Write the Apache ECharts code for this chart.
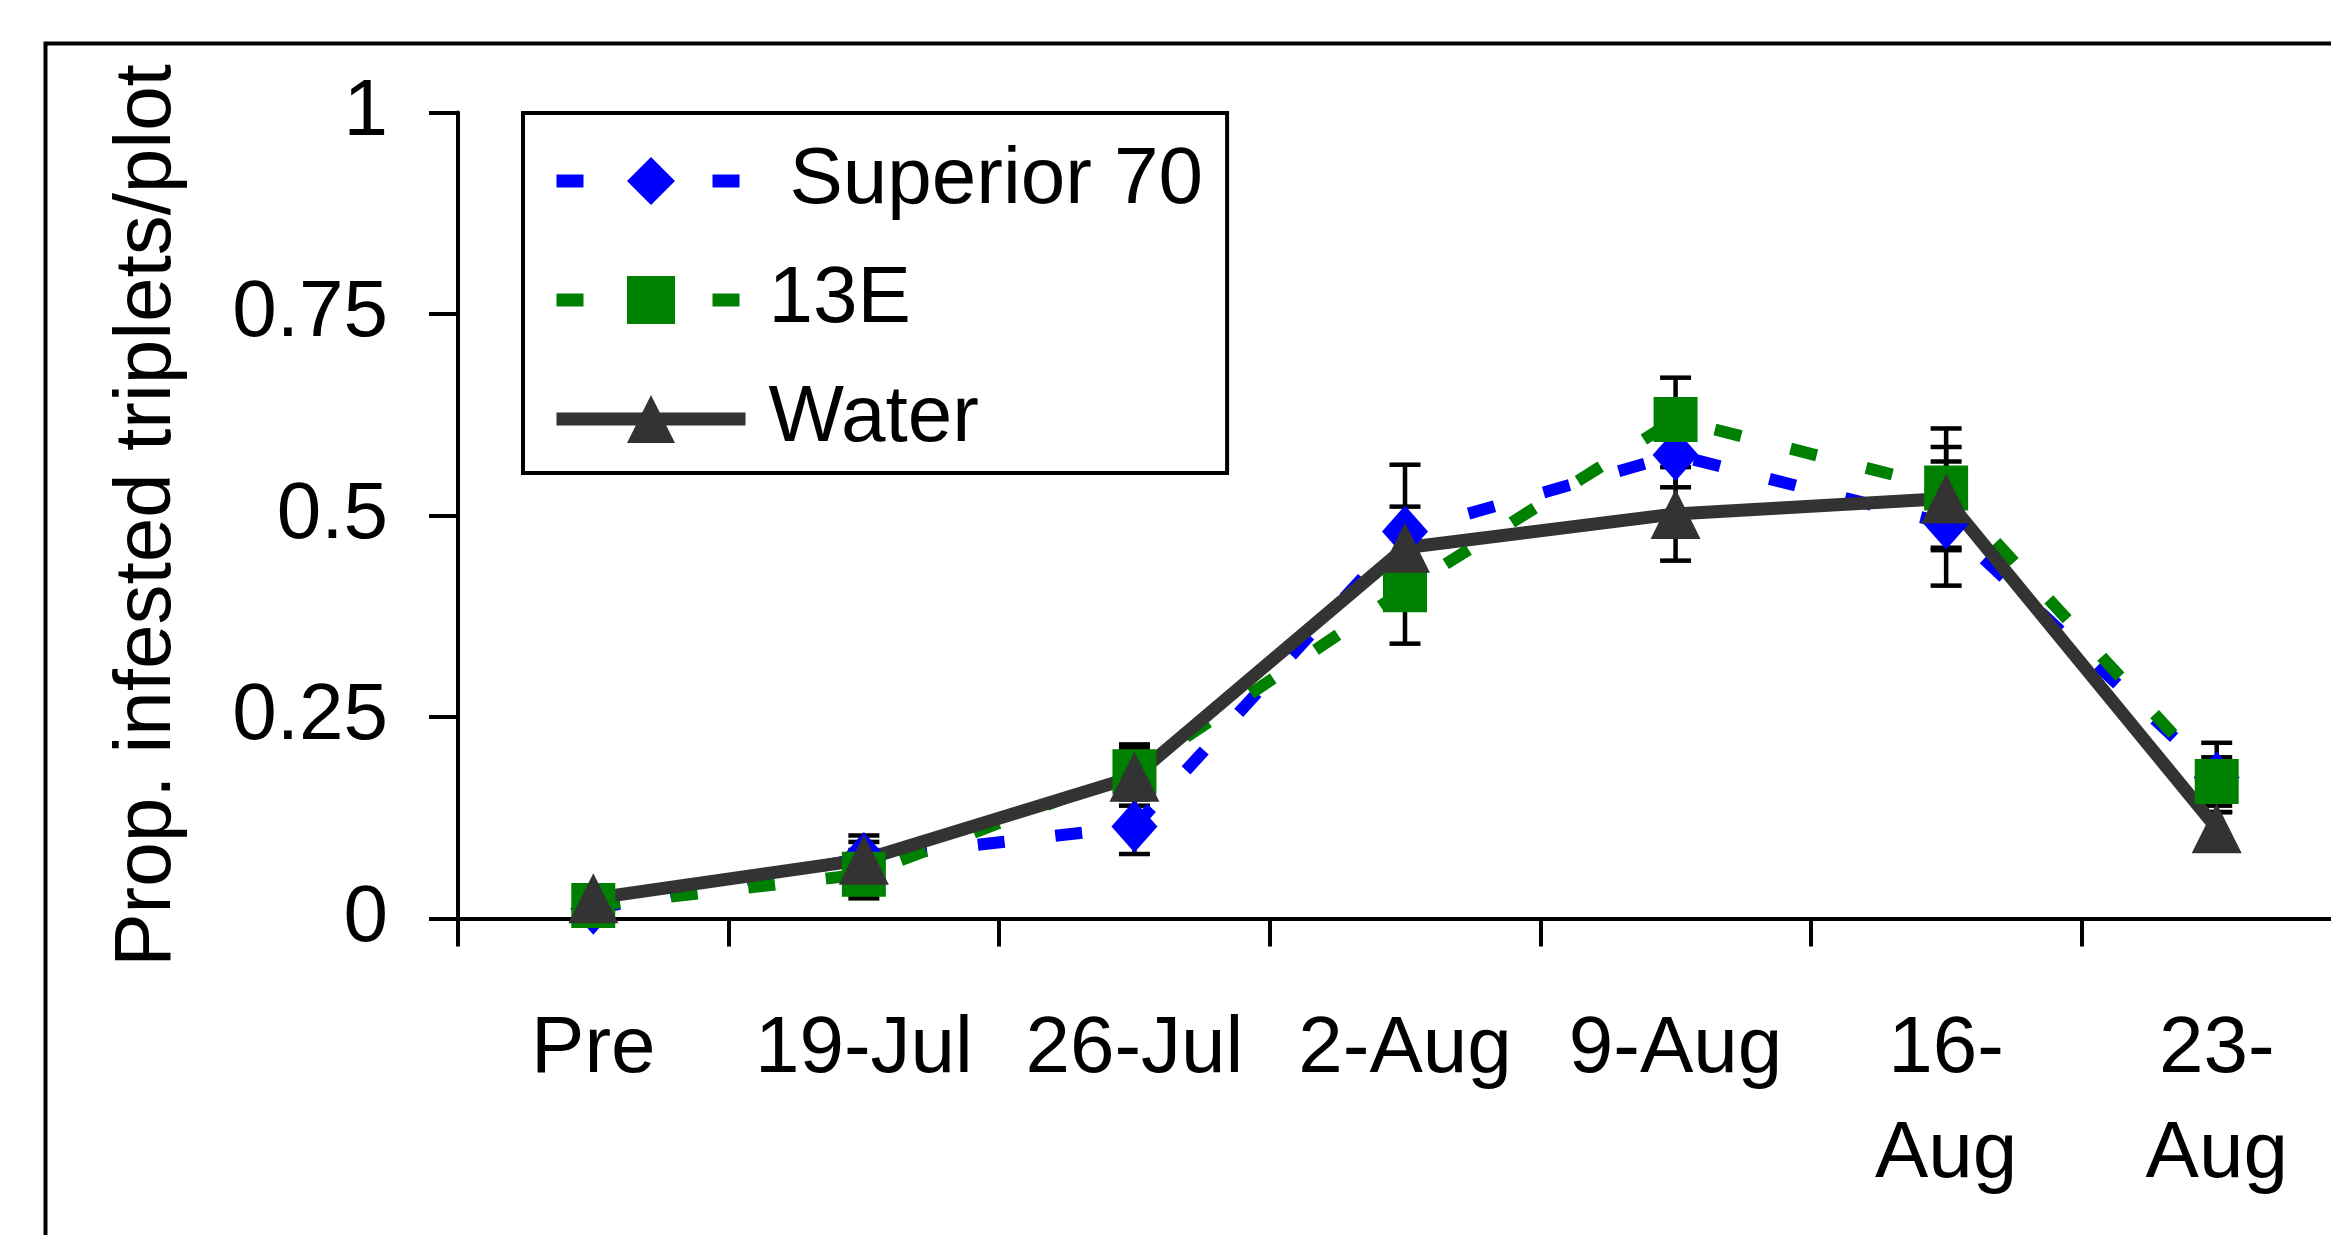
<!DOCTYPE html>
<html>
<head>
<meta charset="utf-8">
<script src="https://cdn.jsdelivr.net/npm/echarts@6/dist/echarts.min.js"></script>
<style>
html,body{margin:0;padding:0;background:#fff;}
#chart{width:2331px;height:1235px;}
</style>
</head>
<body>
<div id="chart"></div>
<script>
// ---- data ----
var categories = ['Pre', '19-Jul', '26-Jul', '2-Aug', '9-Aug', '16-\nAug', '23-\nAug'];
var yTicks = [0, 0.25, 0.5, 0.75, 1];
var superior70 = [0.012, 0.075, 0.114, 0.48, 0.575, 0.49, 0.175];
var superior70Err = [0, 0.02, 0.034, 0.083, 0.04, 0.077, 0.043];
var e13 = [0.016, 0.055, 0.182, 0.408, 0.619, 0.534, 0.17];
var e13Err = [0, 0.03, 0.034, 0.067, 0.052, 0.074, 0.03];
var water = [0.025, 0.073, 0.176, 0.46, 0.502, 0.521, 0.112];
var waterErr = [0, 0.03, 0.036, 0.051, 0.058, 0.064, 0.02];

var FONT = '"Liberation Sans", Arial, sans-serif';
var DASH = [27, 51];

function errData(vals, errs) {
  return vals.map(function (v, i) { return [i, v, errs[i]]; });
}
function errRender(params, api) {
  var x = api.value(0), y = api.value(1), e = api.value(2);
  if (!e) return null;
  var top = api.coord([x, y + e]);
  var bot = api.coord([x, y - e]);
  var hw = 15.5;
  var st = { stroke: '#000', lineWidth: 4.5, fill: null };
  return {
    type: 'group',
    children: [
      { type: 'line', shape: { x1: top[0], y1: top[1], x2: bot[0], y2: bot[1] }, style: st },
      { type: 'line', shape: { x1: top[0] - hw, y1: top[1], x2: top[0] + hw, y2: top[1] }, style: st },
      { type: 'line', shape: { x1: bot[0] - hw, y1: bot[1], x2: bot[0] + hw, y2: bot[1] }, style: st }
    ]
  };
}
function errSeries(vals, errs) {
  return {
    type: 'custom', silent: true, renderItem: errRender, clip: false,
    encode: { x: 0, y: 1 }, data: errData(vals, errs), z: 2
  };
}

var chart = echarts.init(document.getElementById('chart'), null, { renderer: 'canvas' });
chart.setOption({
  animation: false,
  backgroundColor: '#fff',
  graphic: [{
    type: 'rect', left: 43, top: 41, silent: true,
    shape: { width: 2400, height: 1300 },
    style: { fill: null, stroke: '#000', lineWidth: 4 }
  }],
  grid: { left: 458, width: 1894, top: 112.5, height: 806, containLabel: false, outerBoundsMode: 'none' },
  legend: {
    orient: 'vertical', left: 523, top: 113,
    padding: [23, 24, 9, 27], itemGap: 29, itemWidth: 189, itemHeight: 60,
    borderColor: '#000', borderWidth: 4, backgroundColor: '#fff',
    selectedMode: false,
    textStyle: { fontSize: 80, fontFamily: FONT, color: '#000', lineHeight: 80, padding: [10, 0, 0, 18] },
    data: [
      { name: 'Superior 70', textStyle: { padding: [10, 0, 0, 39] },
        lineStyle: { width: 13, color: '#0000FF', type: DASH } },
      { name: '13E', lineStyle: { width: 13, color: '#008000', type: DASH } },
      { name: 'Water', lineStyle: { width: 13, color: '#333333', type: 'solid' } }
    ]
  },
  xAxis: {
    type: 'category', data: categories, boundaryGap: true,
    axisLine: { show: true, lineStyle: { color: '#000', width: 4 } },
    axisTick: { show: true, inside: false, length: 28, alignWithLabel: false, lineStyle: { color: '#000', width: 4 } },
    axisLabel: { interval: 0, margin: 79, fontSize: 80, lineHeight: 105, fontFamily: FONT, color: '#000' },
    splitLine: { show: false }
  },
  yAxis: {
    type: 'value', min: yTicks[0], max: yTicks[yTicks.length - 1], interval: 0.25,
    name: 'Prop. infested triplets/plot', nameLocation: 'middle', nameGap: 270, nameRotate: 90,
    nameTextStyle: { fontSize: 80, fontFamily: FONT, color: '#000', lineHeight: 80 },
    axisLine: { show: true, lineStyle: { color: '#000', width: 4 } },
    axisTick: { show: true, inside: false, length: 29, lineStyle: { color: '#000', width: 4 } },
    axisLabel: { margin: 70, fontSize: 80, fontFamily: FONT, color: '#000' },
    splitLine: { show: false }
  },
  series: [
    errSeries(superior70, superior70Err),
    {
      name: 'Superior 70', type: 'line', data: superior70, z: 2,
      symbol: 'diamond', symbolSize: [46, 52],
      lineStyle: { color: '#0000FF', width: 12, type: DASH, cap: 'butt' },
      itemStyle: { color: '#0000FF', borderWidth: 0 }
    },
    errSeries(e13, e13Err),
    {
      name: '13E', type: 'line', data: e13, z: 2,
      symbol: 'rect', symbolSize: [44, 45],
      lineStyle: { color: '#008000', width: 12, type: DASH, cap: 'butt' },
      itemStyle: { color: '#008000', borderWidth: 0 }
    },
    errSeries(water, waterErr),
    {
      name: 'Water', type: 'line', data: water, z: 2,
      symbol: 'triangle', symbolSize: [50, 50],
      lineStyle: { color: '#333333', width: 13, type: 'solid' },
      itemStyle: { color: '#333333', borderWidth: 0 }
    }
  ]
});
</script>
</body>
</html>
